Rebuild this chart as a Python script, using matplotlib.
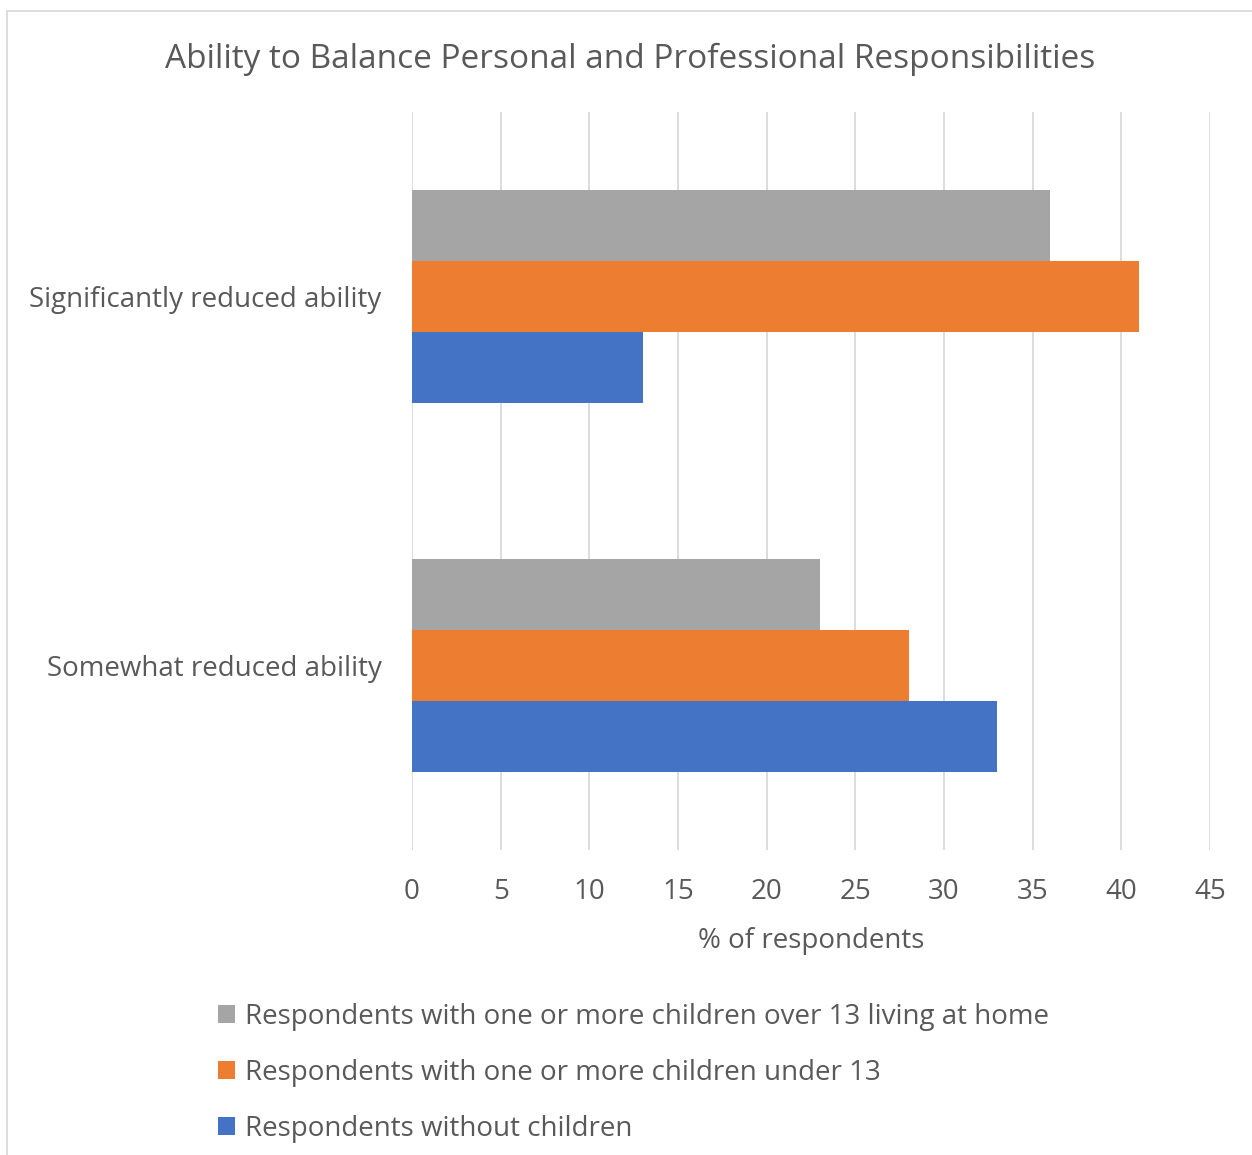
import matplotlib
matplotlib.use("Agg")
import matplotlib.pyplot as plt
from matplotlib.patches import Rectangle

categories = ["Significantly reduced ability", "Somewhat reduced ability"]
series_names = [
    "Respondents with one or more children over 13 living at home",
    "Respondents with one or more children under 13",
    "Respondents without children",
]
over13 = [36, 23]
under13 = [41, 28]
no_children = [13, 33]
xticks = [0, 5, 10, 15, 20, 25, 30, 35, 40, 45]

colors = ["#A5A5A5", "#ED7D31", "#4472C4"]
text_color = "#595959"

plt.rcParams["font.family"] = ["Open Sans", "DejaVu Sans"]

W, H = 1252, 1155
fig = plt.figure(figsize=(W / 100, H / 100), dpi=100)

# outer chart border (right/bottom edges fall outside the image)
fig.patches.append(Rectangle((7 / W, -0.01), 1.1, 1 - 11 / H + 0.01, transform=fig.transFigure,
                             fill=False, edgecolor="#D9D9D9", linewidth=1.3))

ax = fig.add_axes([412 / W, 1 - 850 / H, (1210 - 412) / W, (850 - 112) / H])

h = 71 / 369
pos = list(range(len(categories)))
all_series = [over13, under13, no_children]
for i, (vals, name, c) in enumerate(zip(all_series, series_names, colors)):
    ax.barh([p + (i - 1) * h for p in pos], vals, height=h, color=c, label=name, zorder=3)

fs = 20
ax.set_xlim(0, 45)
ax.set_ylim(1.5, -0.5)
ax.set_xticks(xticks)
ax.set_yticks(pos)
ax.set_yticklabels(categories)
ax.grid(axis="x", color="#D9D9D9", linewidth=1.3, zorder=0)
for s in ax.spines.values():
    s.set_visible(False)
ax.tick_params(axis="both", length=0, labelsize=fs, colors=text_color)
ax.tick_params(axis="x", pad=20)
ax.tick_params(axis="y", pad=22)
ax.set_xlabel("% of respondents", fontsize=fs, color=text_color, labelpad=15)

fig.text(630 / W, 1 - 59 / H, "Ability to Balance Personal and Professional Responsibilities",
         ha="center", va="center", fontsize=24, color=text_color)

handles, labels = ax.get_legend_handles_labels()
leg = fig.legend(handles, labels, loc="center left", bbox_to_anchor=(204 / W, 1 - 1073 / H),
                 frameon=False, fontsize=fs, handlelength=0.62, handleheight=0.62,
                 handletextpad=0.35, labelspacing=1.0, borderpad=0)
for t in leg.get_texts():
    t.set_color(text_color)

fig.savefig("out.png", dpi=100)
